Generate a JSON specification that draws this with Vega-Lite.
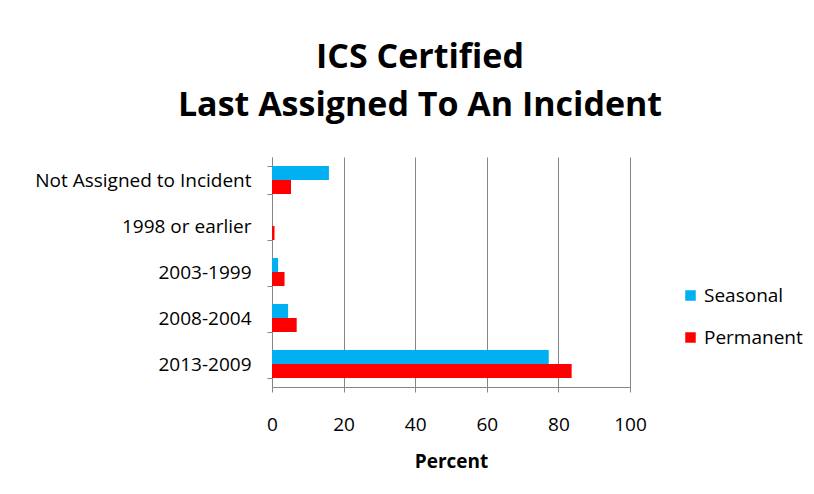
{
  "$schema": "https://vega.github.io/schema/vega-lite/v6.json",
  "autosize": {"type": "none"},
  "width": 358,
  "height": 230,
  "padding": {"left": 272, "top": 157, "right": 184, "bottom": 107},
  "background": "white",
  "title": {
    "text": ["ICS Certified", "Last Assigned To An Incident"],
    "font": "Open Sans",
    "fontSize": 34,
    "fontWeight": "bold",
    "color": "#000000",
    "anchor": "middle",
    "dx": -31,
    "offset": 25,
    "lineHeight": 48
  },
  "data": {
    "values": [
      {"period": "Not Assigned to Incident", "type": "Seasonal", "pct": 15.9},
      {"period": "Not Assigned to Incident", "type": "Permanent", "pct": 5.3},
      {"period": "1998 or earlier", "type": "Seasonal", "pct": 0},
      {"period": "1998 or earlier", "type": "Permanent", "pct": 0.7},
      {"period": "2003-1999", "type": "Seasonal", "pct": 1.7},
      {"period": "2003-1999", "type": "Permanent", "pct": 3.5},
      {"period": "2008-2004", "type": "Seasonal", "pct": 4.5},
      {"period": "2008-2004", "type": "Permanent", "pct": 6.9},
      {"period": "2013-2009", "type": "Seasonal", "pct": 77.3},
      {"period": "2013-2009", "type": "Permanent", "pct": 83.7}
    ]
  },
  "mark": {"type": "bar"},
  "encoding": {
    "y": {
      "field": "period",
      "type": "nominal",
      "sort": ["Not Assigned to Incident", "1998 or earlier", "2003-1999", "2008-2004", "2013-2009"],
      "scale": {"paddingInner": 0.39, "paddingOuter": 0.195},
      "axis": {
        "title": null,
        "labelFont": "Open Sans",
        "labelFontSize": 19,
        "labelColor": "#000000",
        "labelPadding": 16,
        "labelLimit": 400,
        "domainColor": "#868686",
        "tickColor": "#868686",
        "tickBand": "extent",
        "tickSize": 5,
        "grid": false
      }
    },
    "yOffset": {
      "field": "type",
      "type": "nominal",
      "sort": ["Seasonal", "Permanent"]
    },
    "x": {
      "field": "pct",
      "type": "quantitative",
      "scale": {"domain": [0, 100], "nice": false},
      "axis": {
        "title": "Percent",
        "values": [0, 20, 40, 60, 80, 100],
        "labelFlush": false,
        "titleFont": "Open Sans",
        "titleFontSize": 19,
        "titleFontWeight": "bold",
        "titleColor": "#000000",
        "titlePadding": 18,
        "labelFont": "Open Sans",
        "labelFontSize": 19,
        "labelColor": "#000000",
        "labelPadding": 23,
        "domainColor": "#868686",
        "tickColor": "#868686",
        "tickSize": 5,
        "gridColor": "#868686",
        "gridWidth": 1
      }
    },
    "color": {
      "field": "type",
      "type": "nominal",
      "sort": ["Seasonal", "Permanent"],
      "scale": {"domain": ["Seasonal", "Permanent"], "range": ["#00B0F0", "#FF0000"]},
      "legend": {
        "title": null,
        "orient": "none",
        "legendX": 409,
        "legendY": 129,
        "symbolType": "square",
        "symbolSize": 110,
        "symbolStrokeWidth": 0,
        "labelFont": "Open Sans",
        "labelFontSize": 19,
        "labelColor": "#000000",
        "rowPadding": 22,
        "labelOffset": 4
      }
    }
  },
  "config": {
    "view": {"stroke": null},
    "axis": {"domainWidth": 1}
  }
}
